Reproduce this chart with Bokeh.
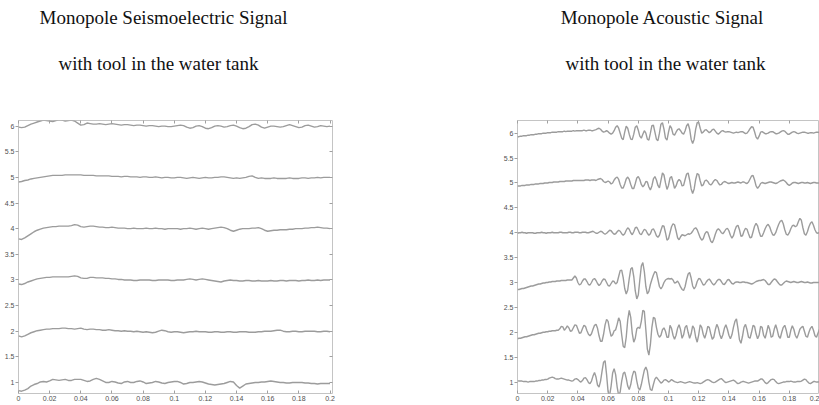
from bokeh.plotting import figure
from bokeh.layouts import row, column
from bokeh.models import Range1d, LinearAxis, FixedTicker
from bokeh.core.properties import value
from bokeh.embed import file_html
from bokeh.resources import INLINE

# ---------------- data ----------------
t_se = [round(i * 0.002, 3) for i in range(101)]   # seismoelectric sample times (s)
t_ac = [round(i * 0.001, 3) for i in range(201)]   # acoustic sample times (s)
offsets = [1, 2, 3, 4, 5, 6]                        # receiver trace offsets

x_ticks = [0, 0.02, 0.04, 0.06, 0.08, 0.1, 0.12, 0.14, 0.16, 0.18, 0.2]
x_tick_labels = ["0", "0.02", "0.04", "0.06", "0.08", "0.1", "0.12", "0.14", "0.16", "0.18", "0.2"]
y_ticks = [1, 1.5, 2, 2.5, 3, 3.5, 4, 4.5, 5, 5.5, 6]
y_tick_labels = ["1", "1.5", "2", "2.5", "3", "3.5", "4", "4.5", "5", "5.5", "6"]

# seismoelectric traces (deviation from offset), receivers 1..6
se1 = [-0.16,-0.17,-0.15,-0.12,-0.07,-0.04,-0.02,0.01,0.02,0.01,
       0.03,0.06,0.05,0.04,0.05,0.06,0.04,0.04,0.06,0.06,
       0.06,0.04,0.02,0.03,0.06,0.08,0.06,0.03,0.00,0.00,
       0.02,0.01,-0.01,-0.02,0.01,0.02,0.00,0.00,0.02,0.03,
       0.01,-0.02,-0.01,0.00,0.02,0.01,-0.01,-0.02,0.00,0.01,
       0.02,0.02,0.00,-0.03,-0.02,0.00,0.00,0.01,0.02,0.01,
       -0.01,-0.03,-0.04,-0.05,-0.04,-0.03,-0.02,0.00,0.02,0.01,
       -0.06,-0.11,-0.07,-0.03,-0.02,-0.01,0.00,0.00,0.01,0.01,
       0.02,0.03,0.02,0.01,0.00,0.00,-0.01,-0.01,0.00,0.00,
       0.00,0.00,-0.01,-0.01,-0.02,-0.02,-0.03,-0.02,-0.02,-0.02,
       -0.02]
se2 = [-0.09,-0.11,-0.09,-0.06,-0.03,-0.01,0.01,0.02,0.03,0.04,
       0.04,0.05,0.05,0.05,0.06,0.06,0.05,0.05,0.04,0.05,
       0.06,0.04,0.03,0.04,0.04,0.03,0.03,0.02,0.02,0.03,
       0.02,0.01,0.01,0.00,0.01,0.00,0.00,-0.01,0.00,-0.01,
       -0.02,-0.01,-0.02,-0.03,-0.02,0.00,0.02,0.01,-0.01,-0.02,
       -0.01,-0.01,-0.02,-0.03,-0.02,-0.01,-0.01,0.00,-0.01,-0.01,
       -0.01,-0.02,-0.02,-0.01,-0.01,-0.02,-0.02,-0.01,-0.01,-0.02,
       -0.02,-0.01,-0.01,-0.01,-0.02,-0.02,-0.02,-0.01,-0.01,0.00,
       0.00,0.00,0.01,0.02,0.02,0.00,-0.01,-0.01,0.00,0.00,
       -0.01,-0.01,0.00,0.00,0.00,0.00,-0.01,-0.01,0.00,0.00,
       -0.01]
se3 = [-0.08,-0.09,-0.07,-0.04,-0.02,0.00,0.02,0.03,0.04,0.05,
       0.05,0.06,0.06,0.06,0.06,0.06,0.06,0.07,0.08,0.07,
       0.04,0.03,0.03,0.05,0.05,0.04,0.04,0.04,0.03,0.03,
       0.02,0.02,0.01,0.01,0.00,0.00,0.00,-0.01,-0.01,0.00,
       0.00,0.00,0.00,-0.01,-0.01,0.00,0.00,0.00,0.00,-0.01,
       -0.01,0.00,0.00,0.00,0.01,0.02,0.01,0.00,0.01,0.02,
       0.01,0.00,-0.01,-0.02,-0.03,-0.04,-0.02,-0.01,0.00,-0.01,
       -0.01,-0.02,-0.02,-0.01,-0.01,-0.02,-0.02,-0.01,-0.02,-0.02,
       -0.02,-0.01,-0.02,-0.02,-0.01,-0.01,-0.02,-0.01,-0.01,-0.01,
       -0.02,-0.01,-0.01,0.00,-0.01,-0.01,0.00,-0.01,0.00,0.00,
       0.00]
se4 = [-0.20,-0.21,-0.18,-0.14,-0.10,-0.06,-0.03,-0.01,0.01,0.02,
       0.03,0.04,0.04,0.05,0.05,0.05,0.05,0.06,0.08,0.07,
       0.04,0.03,0.04,0.05,0.05,0.04,0.03,0.03,0.02,0.02,
       0.03,0.02,0.01,0.01,0.01,0.00,0.00,0.01,0.00,0.00,
       0.00,0.01,0.00,0.00,0.01,0.00,0.00,-0.01,0.00,0.00,
       0.00,0.00,-0.01,0.00,0.00,0.01,0.00,-0.01,0.00,0.01,
       0.00,-0.01,0.00,0.01,0.02,0.03,0.02,0.00,-0.03,-0.05,
       -0.03,-0.01,0.00,0.00,0.00,0.01,0.01,0.02,0.00,-0.03,
       -0.05,-0.04,-0.03,-0.03,-0.02,-0.02,-0.02,-0.01,-0.01,0.00,
       0.00,0.00,0.01,0.01,0.02,0.02,0.03,0.02,0.01,0.01,
       0.00]
se5 = [-0.09,-0.08,-0.06,-0.05,-0.03,-0.02,-0.01,0.00,0.01,0.02,
       0.03,0.04,0.04,0.04,0.04,0.05,0.05,0.05,0.05,0.05,
       0.05,0.04,0.04,0.04,0.04,0.03,0.03,0.03,0.03,0.03,
       0.02,0.02,0.02,0.01,0.02,0.02,0.01,0.01,0.01,0.00,
       0.01,0.01,0.00,0.00,0.01,0.00,-0.01,0.00,0.00,-0.01,
       -0.01,0.00,0.00,-0.01,-0.02,-0.01,0.00,-0.01,-0.02,-0.01,
       0.00,-0.01,-0.01,0.00,0.00,0.01,0.01,0.00,-0.01,-0.02,
       -0.01,-0.02,-0.01,0.00,0.02,0.03,0.00,-0.02,-0.01,-0.02,
       -0.02,-0.02,-0.01,-0.02,-0.02,-0.02,-0.02,-0.01,-0.02,-0.02,
       -0.02,-0.01,-0.01,-0.02,-0.01,-0.01,0.00,-0.01,0.00,0.00,
       0.00]
se6 = [-0.02,-0.03,-0.02,0.01,0.04,0.06,0.08,0.10,0.12,0.11,
       0.10,0.09,0.11,0.13,0.12,0.10,0.11,0.12,0.10,0.06,
       0.02,0.03,0.06,0.05,0.04,0.04,0.05,0.04,0.03,0.04,
       0.05,0.04,0.03,0.02,0.03,0.03,0.02,0.01,0.02,0.02,
       0.01,0.00,0.01,0.01,0.00,-0.01,0.00,0.00,-0.01,-0.01,
       0.00,0.01,0.02,0.01,-0.02,-0.04,-0.03,0.00,0.01,-0.01,
       -0.04,-0.05,-0.03,0.00,0.01,0.00,-0.02,-0.01,0.01,0.02,
       0.00,-0.03,-0.05,-0.04,-0.01,0.03,0.04,0.02,-0.02,-0.04,
       -0.02,0.00,0.00,-0.01,-0.02,-0.01,0.01,0.03,0.01,-0.01,
       -0.03,-0.02,0.01,0.02,0.00,-0.02,-0.01,0.01,0.00,-0.01,
       0.00]

# acoustic traces (deviation from offset), receivers 1..6
ac1 = [0.03,0.02,0.02,0.02,0.01,0.01,0.01,0.00,0.01,0.01,
       0.01,0.01,0.02,0.02,0.03,0.03,0.04,0.04,0.05,0.05,
       0.06,0.08,0.09,0.10,0.09,0.07,0.06,0.06,0.07,0.08,
       0.07,0.06,0.05,0.04,0.04,0.03,0.02,0.03,0.06,0.07,
       0.05,0.02,0.00,0.03,0.08,0.09,0.05,-0.01,-0.03,0.02,
       0.12,0.19,0.10,-0.06,-0.10,0.02,0.22,0.40,0.43,0.15,
       -0.20,-0.27,-0.08,0.18,0.27,0.15,-0.10,-0.27,-0.20,0.02,
       0.17,0.20,0.08,-0.08,-0.15,-0.05,0.12,0.22,0.20,0.02,
       -0.12,-0.16,-0.05,0.10,0.24,0.30,0.22,0.00,-0.15,-0.17,
       -0.05,0.06,0.10,0.06,0.02,-0.02,0.00,0.04,0.05,0.03,
       0.00,0.02,0.05,0.03,0.01,0.00,-0.01,0.00,0.01,0.00,
       -0.01,-0.02,-0.01,0.00,0.01,0.00,-0.01,-0.02,-0.02,-0.01,
       -0.02,-0.03,-0.02,0.00,0.02,0.04,0.05,0.04,0.02,0.00,
       -0.01,0.00,0.02,0.04,0.06,0.07,0.04,0.01,-0.01,0.00,
       0.01,0.02,0.03,0.04,0.02,-0.01,-0.03,-0.02,0.00,0.01,
       0.01,0.00,-0.01,-0.02,-0.01,0.00,0.01,0.02,0.02,0.02,
       0.04,0.06,0.06,0.03,-0.01,-0.03,-0.01,0.02,0.05,0.06,
       0.05,0.01,-0.02,-0.03,-0.02,-0.01,0.00,0.00,0.01,0.01,
       0.01,0.02,0.01,0.00,0.00,0.01,0.01,0.01,0.02,0.04,
       0.06,0.05,0.01,-0.02,-0.03,-0.01,0.01,0.01,0.00,0.00,
       0.01]
ac2 = [-0.13,-0.12,-0.12,-0.11,-0.10,-0.09,-0.09,-0.08,-0.07,-0.06,
       -0.05,-0.05,-0.04,-0.03,-0.02,-0.02,-0.01,0.00,0.00,0.01,
       0.01,0.02,0.02,0.03,0.03,0.03,0.04,0.04,0.07,0.12,
       0.11,0.04,0.08,0.13,0.09,0.02,0.03,0.09,0.15,0.14,
       0.06,-0.02,-0.01,0.07,0.14,0.12,0.03,-0.04,-0.07,-0.03,
       0.06,0.14,0.16,0.08,-0.07,-0.18,-0.18,-0.04,0.15,0.26,
       0.22,0.05,-0.08,-0.05,0.03,0.05,0.16,0.29,0.22,-0.05,
       -0.28,-0.31,-0.10,0.25,0.44,0.30,-0.02,-0.20,-0.12,0.07,
       0.10,0.08,0.22,0.44,0.42,0.05,-0.34,-0.46,-0.25,0.10,
       0.30,0.28,0.10,-0.04,-0.10,-0.06,0.05,0.09,0.02,-0.10,
       -0.10,0.14,0.08,-0.06,-0.14,-0.06,0.08,0.15,0.05,-0.12,
       -0.05,0.10,0.14,0.00,-0.12,-0.03,0.13,0.08,-0.10,-0.20,
       -0.05,0.15,0.10,-0.04,-0.12,-0.02,0.12,0.10,-0.03,-0.14,
       -0.10,0.05,0.16,0.09,-0.05,-0.13,-0.05,0.08,0.15,0.06,
       -0.06,-0.13,-0.05,0.10,0.22,0.27,0.08,-0.15,-0.22,-0.08,
       0.10,0.16,0.05,-0.10,-0.12,0.00,0.14,0.12,-0.03,-0.13,
       -0.06,0.12,0.10,-0.06,-0.12,0.00,0.14,0.06,-0.10,-0.08,
       0.06,0.15,0.05,-0.08,-0.12,0.00,0.10,0.14,0.04,-0.10,
       -0.10,0.04,0.13,0.06,-0.06,-0.12,-0.04,0.06,0.10,0.12,
       0.02,-0.08,-0.10,0.00,0.08,0.12,0.04,-0.07,-0.10,-0.02,
       0.06]
ac3 = [-0.14,-0.14,-0.13,-0.12,-0.12,-0.11,-0.10,-0.09,-0.08,-0.07,
       -0.07,-0.06,-0.05,-0.04,-0.03,-0.03,-0.02,-0.01,-0.01,0.00,
       0.00,0.01,0.01,0.02,0.02,0.02,0.03,0.03,0.03,0.04,
       0.04,0.04,0.04,0.05,0.05,0.05,0.05,0.09,0.13,0.09,
       0.00,-0.05,-0.03,0.03,0.07,0.07,0.02,-0.04,-0.05,0.00,
       0.06,0.08,0.04,-0.02,-0.06,-0.03,0.03,0.07,0.06,0.00,
       -0.06,-0.07,-0.02,0.03,0.02,-0.03,0.00,0.12,0.24,0.25,
       0.10,-0.12,-0.23,-0.15,0.08,0.27,0.30,0.12,-0.17,-0.33,
       -0.25,0.05,0.33,0.40,0.22,-0.08,-0.23,-0.18,-0.04,0.06,
       0.15,0.22,0.20,0.06,-0.08,-0.13,-0.08,0.00,0.05,0.07,
       0.08,0.07,0.08,0.05,-0.01,0.00,0.03,-0.02,-0.09,-0.14,
       -0.16,-0.08,0.06,0.17,0.20,0.09,-0.07,-0.13,-0.08,0.02,
       0.08,0.07,0.01,-0.05,-0.04,0.01,0.05,0.07,0.03,-0.02,
       -0.05,-0.02,0.03,0.06,0.06,0.02,-0.03,-0.04,0.00,0.05,
       0.06,0.02,-0.02,-0.03,0.00,0.01,0.01,0.00,0.00,0.01,
       0.01,0.00,0.00,-0.01,-0.02,-0.03,-0.02,0.00,0.02,0.03,
       0.04,0.04,0.05,0.06,0.04,0.00,-0.04,-0.04,0.00,0.04,
       0.07,0.06,0.02,-0.02,-0.05,-0.05,-0.02,0.01,0.03,0.02,
       0.01,0.00,0.01,0.02,0.01,0.00,0.00,0.01,0.02,0.01,
       0.00,0.00,0.01,0.00,-0.01,-0.01,0.00,0.00,0.00,0.00,
       0.00]
ac4 = [-0.01,0.00,0.00,0.01,0.00,0.00,-0.01,0.00,0.00,0.00,
       0.00,-0.01,-0.01,0.00,0.00,0.00,0.01,0.00,0.00,-0.01,
       0.00,0.00,0.00,0.01,0.00,0.00,0.00,0.00,0.01,0.01,
       0.00,0.00,0.00,0.00,0.01,0.01,0.00,0.00,0.01,0.01,
       0.01,0.00,0.00,0.01,0.01,0.01,0.00,0.00,0.01,0.02,
       0.03,0.01,-0.01,-0.01,0.01,0.03,0.02,-0.01,-0.03,-0.01,
       0.02,0.05,0.04,0.00,-0.03,-0.02,0.02,0.05,0.03,-0.02,
       -0.05,-0.02,0.05,0.10,0.07,0.00,-0.04,0.02,0.10,0.11,
       0.05,-0.02,-0.04,0.02,0.07,0.05,-0.01,-0.05,-0.02,0.06,
       0.08,0.02,-0.06,-0.09,-0.05,0.05,0.14,0.13,0.00,-0.15,
       -0.12,0.00,0.12,0.18,0.16,0.04,-0.10,-0.14,-0.08,-0.04,
       -0.05,-0.06,-0.04,-0.02,-0.03,-0.01,0.03,0.08,0.10,0.06,
       -0.02,-0.10,-0.15,-0.12,-0.03,0.02,0.01,-0.08,-0.17,-0.20,
       -0.13,-0.03,0.05,0.08,0.05,0.00,-0.02,0.02,0.07,0.09,
       0.04,-0.05,-0.11,-0.06,0.05,0.13,0.15,0.06,-0.07,-0.06,
       0.03,0.09,0.07,-0.02,-0.10,-0.09,0.02,0.13,0.19,0.14,
       0.02,-0.07,-0.07,0.00,0.08,0.14,0.17,0.12,0.03,-0.04,
       -0.05,0.00,0.09,0.17,0.23,0.25,0.18,0.06,-0.03,-0.05,
       0.00,0.08,0.14,0.15,0.12,0.14,0.22,0.29,0.25,0.10,
       -0.02,-0.05,0.02,0.12,0.19,0.22,0.15,0.06,0.00,-0.01,
       0.01]
ac5 = [-0.06,-0.06,-0.06,-0.05,-0.05,-0.05,-0.04,-0.04,-0.04,-0.03,
       -0.03,-0.03,-0.02,-0.02,-0.02,-0.01,-0.01,-0.01,0.00,0.00,
       0.00,0.01,0.01,0.01,0.02,0.02,0.02,0.02,0.03,0.03,
       0.03,0.03,0.04,0.04,0.04,0.04,0.04,0.05,0.05,0.05,
       0.05,0.05,0.05,0.05,0.05,0.06,0.06,0.06,0.05,0.06,
       0.06,0.06,0.05,0.07,0.08,0.09,0.07,0.03,0.01,0.02,
       0.04,0.02,-0.02,0.00,0.06,0.10,0.12,0.07,-0.03,-0.10,
       -0.10,-0.02,0.08,0.12,0.07,-0.03,-0.11,-0.11,-0.01,0.10,
       0.13,0.07,-0.03,-0.08,-0.04,0.03,0.02,-0.08,-0.14,-0.06,
       0.08,0.13,0.06,-0.05,-0.10,0.05,0.20,0.16,0.00,-0.13,
       -0.05,0.10,0.13,0.02,-0.11,-0.06,0.03,0.07,0.04,-0.06,
       -0.05,0.07,0.18,0.20,0.06,-0.12,-0.21,-0.12,0.07,0.19,
       0.17,0.04,-0.06,-0.04,0.04,0.06,0.03,-0.02,-0.04,-0.01,
       0.04,0.07,0.05,0.00,-0.04,-0.03,0.01,0.03,0.02,0.00,
       -0.01,0.00,0.01,0.00,0.00,0.01,0.02,0.01,0.00,0.02,
       0.02,0.00,-0.01,0.02,0.08,0.14,0.15,0.06,-0.06,-0.11,
       -0.07,-0.01,0.01,0.00,-0.01,0.00,0.01,0.02,0.02,0.01,
       0.00,-0.01,0.00,0.02,0.04,0.05,0.06,0.04,0.01,-0.03,
       -0.05,-0.03,0.00,0.01,0.01,0.00,-0.01,0.00,0.01,0.01,
       0.00,0.00,0.01,0.00,-0.01,0.00,0.01,0.01,0.00,0.00,
       0.00]
ac6 = [-0.07,-0.07,-0.06,-0.06,-0.05,-0.05,-0.05,-0.04,-0.04,-0.03,
       -0.03,-0.03,-0.02,-0.02,-0.01,-0.01,-0.01,0.00,0.00,0.00,
       0.01,0.01,0.01,0.02,0.02,0.02,0.02,0.03,0.03,0.03,
       0.03,0.04,0.03,0.04,0.04,0.04,0.04,0.05,0.04,0.05,
       0.05,0.05,0.05,0.05,0.06,0.05,0.05,0.06,0.06,0.05,
       0.05,0.06,0.07,0.09,0.10,0.08,0.04,0.02,0.03,0.05,
       0.03,0.00,-0.02,0.00,0.05,0.12,0.15,0.10,0.00,-0.10,
       -0.13,0.02,0.14,0.10,-0.02,-0.12,-0.13,-0.02,0.12,0.15,
       0.06,-0.06,-0.10,-0.02,0.05,0.00,-0.12,-0.14,0.00,0.15,
       0.16,0.02,-0.12,-0.15,0.00,0.18,0.21,0.08,-0.10,-0.14,
       0.02,0.15,0.10,-0.02,-0.04,0.02,0.07,0.09,0.05,0.00,
       -0.02,0.05,0.15,0.19,0.08,-0.12,-0.21,-0.12,0.08,0.21,
       0.22,0.10,0.00,0.02,0.06,0.07,0.04,0.01,0.03,0.07,
       0.08,0.04,0.00,-0.02,0.01,0.04,0.05,0.03,0.02,0.03,
       0.03,0.02,0.01,0.00,0.01,0.02,0.01,0.02,0.03,0.03,
       0.01,-0.01,0.00,0.04,0.09,0.13,0.12,0.03,-0.08,-0.12,
       -0.06,0.02,0.03,0.01,-0.01,-0.01,0.00,0.02,0.03,0.03,
       0.01,-0.01,-0.01,0.00,0.02,0.04,0.05,0.04,0.01,-0.02,
       -0.02,0.00,0.02,0.03,0.02,0.00,-0.01,0.00,0.01,0.02,
       0.02,0.01,0.00,0.00,0.01,0.01,0.00,0.01,0.02,0.02,
       0.01]

se_traces = [se1, se2, se3, se4, se5, se6]
ac_traces = [ac1, ac2, ac3, ac4, ac5, ac6]

title_texts = ["Monopole Seismoelectric Signal", "with tool in the water tank",
               "Monopole Acoustic Signal", "with tool in the water tank"]

# ---------------- styling / layout ----------------
LINE = "#9c9c9c"
FRAME = "#c4c4c4"
TICK = "#a0a0a0"
LABEL = "#505050"
SANS = "Liberation Sans"
SERIF = "Liberation Serif"
HEADER_H = 110
PLOT_H = 405 - HEADER_H

# title centres (header pixels: x from left, y from header bottom)
title_x = [163, 158, 662, 665]
title_y = [HEADER_H - 17, HEADER_H - 63, HEADER_H - 17, HEADER_H - 63]

x_over = {k: v for k, v in zip(x_ticks, x_tick_labels)}
y_over = {k: v for k, v in zip(y_ticks, y_tick_labels)}

header = figure(width=819, height=HEADER_H, x_range=Range1d(0, 819),
                y_range=Range1d(0, HEADER_H), output_backend="svg",
                toolbar_location=None, x_axis_location=None, y_axis_location=None,
                min_border=0)
header.grid.visible = False
header.outline_line_color = None
header.text(x=title_x, y=title_y, text=title_texts,
            text_font=value(SERIF), text_font_size=value("19px"),
            text_align="center", text_baseline="middle", text_color="#111111")


def make_panel(width, x_end, y_start, y_end, left_border, right_border, right_ticks):
    p = figure(width=width, height=PLOT_H,
               x_range=Range1d(0, x_end), y_range=Range1d(y_start, y_end),
               output_backend="svg", toolbar_location=None,
               min_border_left=left_border, min_border_right=right_border,
               min_border_top=10, min_border_bottom=12)
    p.grid.visible = False
    p.outline_line_color = FRAME
    p.outline_line_width = 1
    p.background_fill_color = "white"
    p.border_fill_color = "white"

    xa = p.xaxis[0]
    xa.ticker = FixedTicker(ticks=x_ticks)
    xa.major_label_overrides = x_over
    xa.axis_line_color = None
    xa.major_tick_in = 3
    xa.major_tick_out = 0
    xa.major_tick_line_color = TICK
    xa.minor_tick_line_color = None
    xa.major_label_standoff = 2
    xa.major_label_text_font = SANS
    xa.major_label_text_font_size = "7px"
    xa.major_label_text_color = LABEL

    ya = p.yaxis[0]
    ya.ticker = FixedTicker(ticks=y_ticks)
    ya.major_label_overrides = y_over
    ya.axis_line_color = None
    ya.major_tick_in = 0
    ya.major_tick_out = 3
    ya.major_tick_line_color = TICK
    ya.minor_tick_line_color = None
    ya.major_label_standoff = 1
    ya.major_label_text_font = SANS
    ya.major_label_text_font_size = "7px"
    ya.major_label_text_color = LABEL

    top = LinearAxis(ticker=FixedTicker(ticks=x_ticks), axis_line_color=None,
                     major_tick_in=3, major_tick_out=0, major_tick_line_color=TICK,
                     minor_tick_line_color=None, major_label_text_color=None,
                     major_label_text_font_size="1px", major_label_standoff=0)
    p.add_layout(top, "above")
    if right_ticks:
        right = LinearAxis(ticker=FixedTicker(ticks=y_ticks), axis_line_color=None,
                           major_tick_in=3, major_tick_out=0, major_tick_line_color=TICK,
                           minor_tick_line_color=None, major_label_text_color=None,
                           major_label_text_font_size="1px", major_label_standoff=0)
        p.add_layout(right, "right")
    return p


p1 = make_panel(500, 0.2016, 0.785, 6.11, 18, 168, True)
for off, tr in zip(offsets, se_traces):
    p1.line(t_se, [off + v for v in tr], line_color=LINE, line_width=1.4)

p2 = make_panel(319, 0.2, 0.77, 6.255, 14, 0, False)
for off, tr in zip(offsets, ac_traces):
    p2.line(t_ac, [off + v for v in tr], line_color=LINE, line_width=1.4)

layout = column(header, row(p1, p2))
open("out.html", "w").write(file_html(layout, INLINE))
